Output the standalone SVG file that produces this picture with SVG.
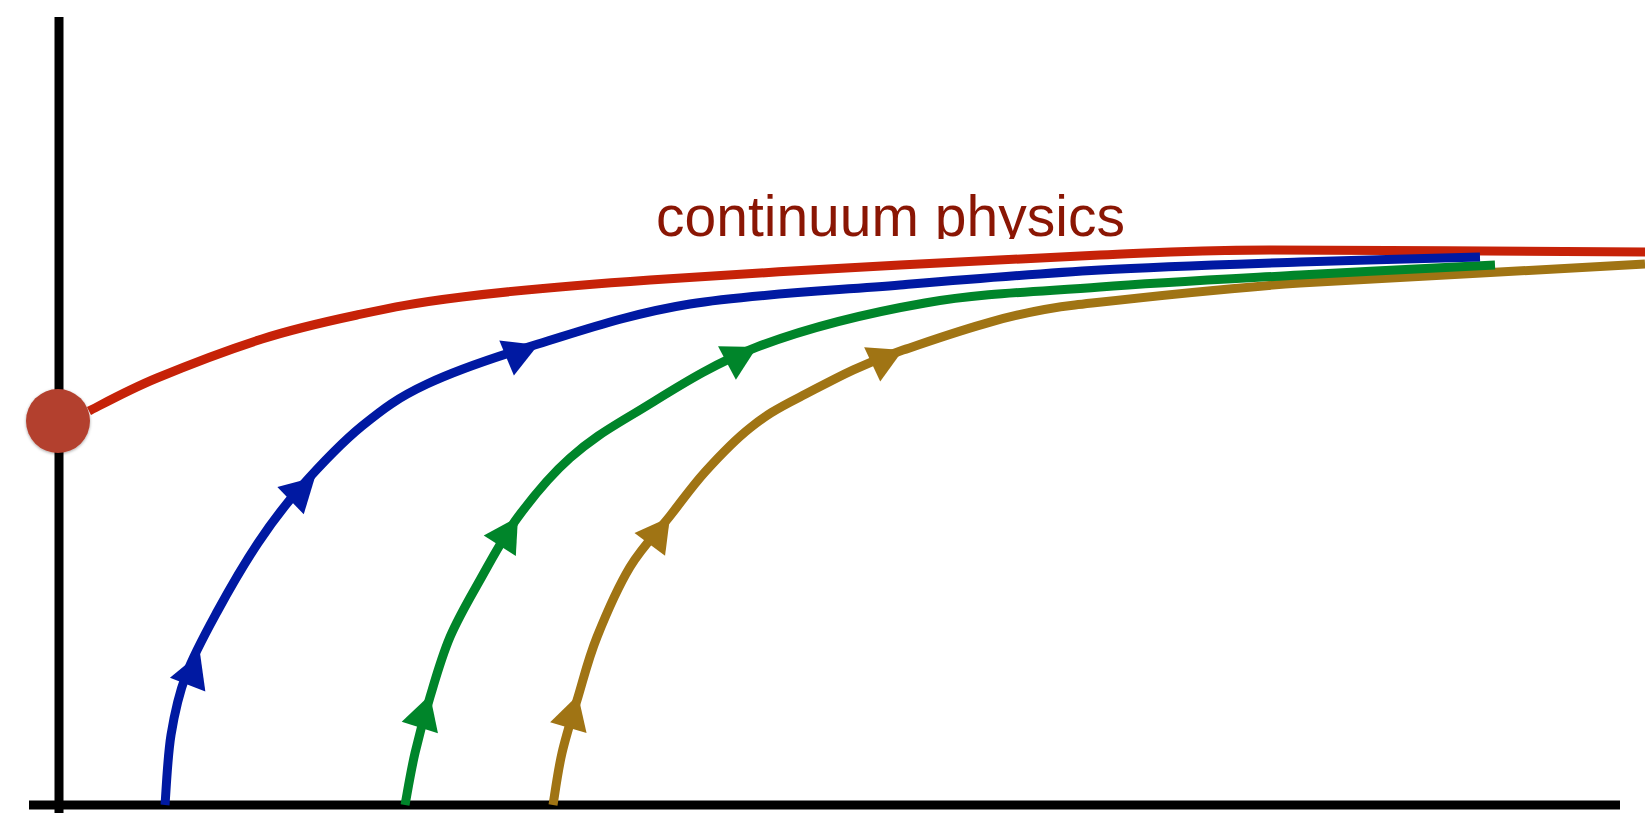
<svg xmlns="http://www.w3.org/2000/svg" width="1645" height="813" viewBox="0 0 1645 813">
<style>
.axis{stroke:#000;stroke-width:9;fill:none}
.cv{fill:none;stroke-width:9;stroke-linejoin:round;stroke-linecap:butt}
.red{stroke:#c62208}
.blue{stroke:#0019a2}
.green{stroke:#00852a}
.gold{stroke:#a07414}
.ab{fill:#0019a2}
.ag{fill:#00852a}
.ao{fill:#a07414}
.lbl{font-family:"Liberation Sans",Arial,sans-serif;font-size:57px;fill:#8a1604}
</style>
<defs>
<polygon id="ah" points="0,0 -34,-19 -34,19"/>
<clipPath id="tclip"><rect x="600" y="150" width="600" height="89"/></clipPath>
<filter id="sh" x="-30%" y="-30%" width="160%" height="160%"><feDropShadow dx="0" dy="1" stdDeviation="1.5" flood-opacity="0.35"/></filter>
</defs>
<rect width="1645" height="813" fill="#fff"/>
<g id="axes">
<line class="axis" x1="59" y1="17" x2="59" y2="813"/>
<line class="axis" x1="29" y1="805" x2="1620" y2="805"/>
</g>
<g id="connectors">
<path class="cv red" d="M89,411 C100,405.5 128,390 157,378 C186,366 229,349.5 262,339 C295,328.5 324,322 357,315 C390,308 413,303 462,297 C511,291 577,285 650,280 C723,275 825,269 900,265 C975,261 1038,257.5 1100,255 C1162,252.5 1179,250.5 1270,250 C1361,249.5 1582,252 1645,252"/>
<path class="cv gold" d="M553,805 C554.5,796.3 557.8,771 562,753 C566.2,735 572.2,716.3 578,697 C583.8,677.7 588.3,658.7 597,637 C605.7,615.3 617.8,587.2 630,567 C642.2,546.8 657.5,531.8 670,516 C682.5,500.2 691.7,486.7 705,472 C718.3,457.3 734.2,440.5 750,428 C765.8,415.5 774.5,410 800,397 C825.5,384 857.2,365.3 903,350 C948.8,334.7 1008.7,312.5 1075,305 C1141.3,297.5 1205.8,289.8 1300,283 C1357.5,279.7 1587.5,267.2 1645,264"/>
<path class="cv green" d="M405,805 C406.7,796.3 410.8,771 415,753 C419.2,735 424.2,716.3 430,697 C435.8,677.7 441.7,656.5 450,637 C458.3,617.5 468.7,600 480,580 C491.3,560 503,537.3 518,517 C533,496.7 550.5,475.3 570,458 C589.5,440.7 603.8,431.5 635,413 C666.2,394.5 708.7,365.3 757,347 C805.3,328.7 867.8,313 925,303 C982.2,293 1037.5,291.7 1100,287 C1162.5,282.3 1234.2,278.7 1300,275 C1365.8,271.3 1462.5,266.7 1495,265"/>
<path class="cv blue" d="M165,805 C166,793.3 167.5,756.7 171,735 C174.5,713.3 178.3,695.5 186,675 C193.7,654.5 205,634 217,612 C229,590 244.2,563.7 258,543 C271.8,522.3 282.7,507.5 300,488 C317.3,468.5 340.8,443.3 362,426 C383.2,408.7 397.7,397.7 427,384 C456.3,370.3 494.2,357.3 538,344 C581.8,330.7 629.7,313.8 690,304 C750.3,294.2 831.7,290.7 900,285 C968.3,279.3 1033.3,273.8 1100,270 C1166.7,266.2 1236.7,264.2 1300,262 C1363.3,259.8 1450,257.8 1480,257"/>
<use href="#ah" class="ab" transform="translate(200,653) rotate(-68.7)"/>
<use href="#ah" class="ab" transform="translate(315,477) rotate(-44)"/>
<use href="#ah" class="ab" transform="translate(538,345) rotate(-22.6)"/>
<use href="#ah" class="ag" transform="translate(430,695) rotate(-72.6)"/>
<use href="#ah" class="ag" transform="translate(518,517) rotate(-57.6)"/>
<use href="#ah" class="ag" transform="translate(757,347) rotate(-28)"/>
<use href="#ah" class="ao" transform="translate(578,695) rotate(-73.5)"/>
<use href="#ah" class="ao" transform="translate(670,517) rotate(-53.5)"/>
<use href="#ah" class="ao" transform="translate(903,350) rotate(-25)"/>
</g>
<g id="start-point">
<circle cx="58" cy="421" r="32" fill="#b3412f" filter="url(#sh)"/>
</g>
<g id="label">
<text class="lbl" x="656" y="236" clip-path="url(#tclip)">continuum physics</text>
</g>
</svg>
